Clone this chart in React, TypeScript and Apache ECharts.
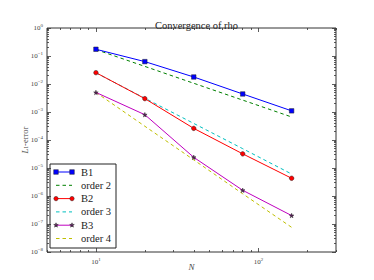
import React, { useEffect, useRef } from "react";
import * as echarts from "echarts";

const N = [10, 20, 40, 80, 160];
const b1 = [0.174, 0.063, 0.0178, 0.0044, 0.0011];
const order2 = [0.17, 0.0425, 0.0106, 0.00266, 0.000664];
const b2 = [0.0254, 0.003, 0.00026, 0.000032, 0.0000043];
const order3 = [0.025, 0.0031, 0.00039, 0.000049, 0.0000061];
const b3 = [0.005, 0.0008, 0.000024, 0.0000016, 0.0000002];
const order4 = [0.005, 0.00031, 0.0000195, 0.0000012, 0.000000076];

const xMajor = [10, 100];
const xMinor = [5, 6, 7, 8, 9, 20, 30, 40, 50, 60, 70, 80, 90, 200, 300];
const yMajor = [1e-8, 1e-7, 1e-6, 1e-5, 1e-4, 1e-3, 1e-2, 1e-1, 1];
const yMinorMult = [2, 3, 4, 5, 6, 7, 8, 9];

const legendItems = ["B1", "order 2", "B2", "order 3", "B3", "order 4"];

const FONT = "Liberation Serif";
const STAR = "path://M50,0 L61,35 L98,35 L68,57 L79,91 L50,70 L21,91 L32,57 L2,35 L39,35 Z";

const sup = (v: number) => {
  const e = Math.round(Math.log10(v));
  return `{b|10}{s|${e < 0 ? "\u2212" + -e : e}}`;
};

export default function App() {
  const ref = useRef<HTMLDivElement>(null);
  useEffect(() => {
    if (!ref.current) return;
    const chart = echarts.init(ref.current, undefined, { renderer: "svg" });
    const yMinor: number[] = [];
    for (let i = 0; i < yMajor.length - 1; i++) for (const m of yMinorMult) yMinor.push(yMajor[i] * m);

    const rich = {
      b: { fontFamily: FONT, fontSize: 7, color: "#444" },
      s: { fontFamily: FONT, fontSize: 5, color: "#444", verticalAlign: "top", padding: [0, 0, 5, 0] },
    };
    const xBase = { type: "log", logBase: 10, min: 5, max: 300, gridIndex: 0 };
    const yBase = { type: "log", logBase: 10, min: 1e-8, max: 1, gridIndex: 0 };
    const xAxes: any[] = [];
    const yAxes: any[] = [];
    for (const pos of ["bottom", "top"]) {
      xAxes.push({
        ...xBase, position: pos, axisLine: { show: false }, splitLine: { show: false },
        axisTick: { show: true, inside: true, length: 4, customValues: xMajor, lineStyle: { color: "#333", width: 0.8 } },
        axisLabel: pos === "bottom" ? { show: true, customValues: xMajor, formatter: (v: number) => sup(v), rich, margin: 5 } : { show: false },
        name: pos === "bottom" ? "N" : "", nameLocation: "middle", nameGap: 10, nameMoveOverlap: false,
        nameTextStyle: { fontFamily: FONT, fontStyle: "italic", fontSize: 9, color: "#444" },
      });
      xAxes.push({
        ...xBase, position: pos, axisLine: { show: false }, splitLine: { show: false },
        axisTick: { show: true, inside: true, length: 2, customValues: xMinor, lineStyle: { color: "#333", width: 0.8 } },
        axisLabel: { show: false },
      });
    }
    for (const pos of ["left", "right"]) {
      yAxes.push({
        ...yBase, position: pos, axisLine: { show: false }, splitLine: { show: false },
        axisTick: { show: true, inside: true, length: 4, customValues: yMajor, lineStyle: { color: "#333", width: 0.8 } },
        axisLabel: pos === "left" ? { show: true, customValues: yMajor, formatter: (v: number) => sup(v), rich, margin: 4 } : { show: false },
        name: pos === "left" ? "{i|L}{sub|1}{n|-error}" : "", nameLocation: "middle", nameGap: 18, nameMoveOverlap: false,
        nameTextStyle: {
          rich: {
            i: { fontFamily: FONT, fontStyle: "italic", fontSize: 8.5, color: "#444" },
            sub: { fontFamily: FONT, fontSize: 5.5, color: "#444", verticalAlign: "bottom" },
            n: { fontFamily: FONT, fontSize: 8.5, color: "#444" },
          },
        },
      });
      yAxes.push({
        ...yBase, position: pos, axisLine: { show: false }, splitLine: { show: false },
        axisTick: { show: true, inside: true, length: 2, customValues: yMinor, lineStyle: { color: "#333", width: 0.8 } },
        axisLabel: { show: false },
      });
    }

    const line = (name: string, ys: number[], color: string, dashed: boolean, symbol: string, symbolSize: number, fill?: string) => ({
      type: "line", name, xAxisIndex: 0, yAxisIndex: 0,
      data: N.map((n, i) => [n, ys[i]]),
      showSymbol: symbol !== "none", symbol, symbolSize,
      itemStyle: { color: fill || color, borderColor: "#222", borderWidth: 0.5 },
      lineStyle: { color, width: 1, type: dashed ? [3.5, 3] : "solid" },
      z: dashed ? 2 : 3,
    });

    const series = [
      line("order 2", order2, "#008000", true, "none", 0),
      line("order 3", order3, "#00bfbf", true, "none", 0),
      line("order 4", order4, "#bfbf00", true, "none", 0),
      line("B1", b1, "#0000ff", false, "rect", 4.5),
      line("B2", b2, "#ff0000", false, "circle", 4.5),
      line("B3", b3, "#bf00bf", false, STAR, 4.5, "#5a1f5a"),
    ];

    // legend drawn with graphic
    const lx = 50, ly = 164, rowH = 13.3;
    const colors: Record<string, string> = { B1: "#0000ff", "order 2": "#008000", B2: "#ff0000", "order 3": "#00bfbf", B3: "#bf00bf", "order 4": "#bfbf00" };
    const children: any[] = [
      { type: "rect", shape: { x: lx, y: ly, width: 66, height: 84 }, style: { fill: "#fff", stroke: "#222", lineWidth: 1 } },
    ];
    legendItems.forEach((name, i) => {
      const cy = ly + 8 + i * rowH;
      const dashed = name.startsWith("order");
      children.push({ type: "line", shape: { x1: lx + 6, y1: cy, x2: lx + 22, y2: cy }, style: { stroke: colors[name], lineWidth: 1, lineDash: dashed ? [3.5, 3] : null } });
      if (name === "B1") {
        for (const px of [lx + 6, lx + 22]) children.push({ type: "rect", shape: { x: px - 2.3, y: cy - 2.3, width: 4.6, height: 4.6 }, style: { fill: "#0000ff", stroke: "#222", lineWidth: 0.5 } });
      } else if (name === "B2") {
        for (const px of [lx + 6, lx + 22]) children.push({ type: "circle", shape: { cx: px, cy, r: 2.2 }, style: { fill: "#ff0000", stroke: "#222", lineWidth: 0.5 } });
      } else if (name === "B3") {
        for (const px of [lx + 6, lx + 22]) {
          const pts: number[][] = [];
          for (let k = 0; k < 10; k++) {
            const a = -Math.PI / 2 + (k * Math.PI) / 5;
            const r = k % 2 === 0 ? 2.4 : 1.0;
            pts.push([px + r * Math.cos(a), cy + r * Math.sin(a)]);
          }
          children.push({ type: "polygon", shape: { points: pts }, style: { fill: "#5a1f5a", stroke: "#222", lineWidth: 0.5 } });
        }
      }
      children.push({ type: "text", x: lx + 31, y: cy, style: { text: name, font: "10.5px 'Liberation Serif'", fill: "#222", verticalAlign: "middle", align: "left" } });
    });

    chart.setOption({
      animation: false,
      backgroundColor: "#fff",
      title: {
        text: "Convergence of rho", left: 191.5, top: 15, textAlign: "center",
        textStyle: { fontFamily: FONT, fontSize: 10.5, fontWeight: "normal", color: "#222" },
      },
      grid: { left: 47, top: 28, width: 289, height: 224, show: true, borderColor: "#333", borderWidth: 1, backgroundColor: "#fff" },
      xAxis: xAxes,
      yAxis: yAxes,
      series,
      graphic: [{ type: "group", children, z: 100 }],
    });
    return () => chart.dispose();
  }, []);
  return <div ref={ref} style={{ width: 374, height: 280, position: "absolute", left: 0, top: 0 }} />;
}
